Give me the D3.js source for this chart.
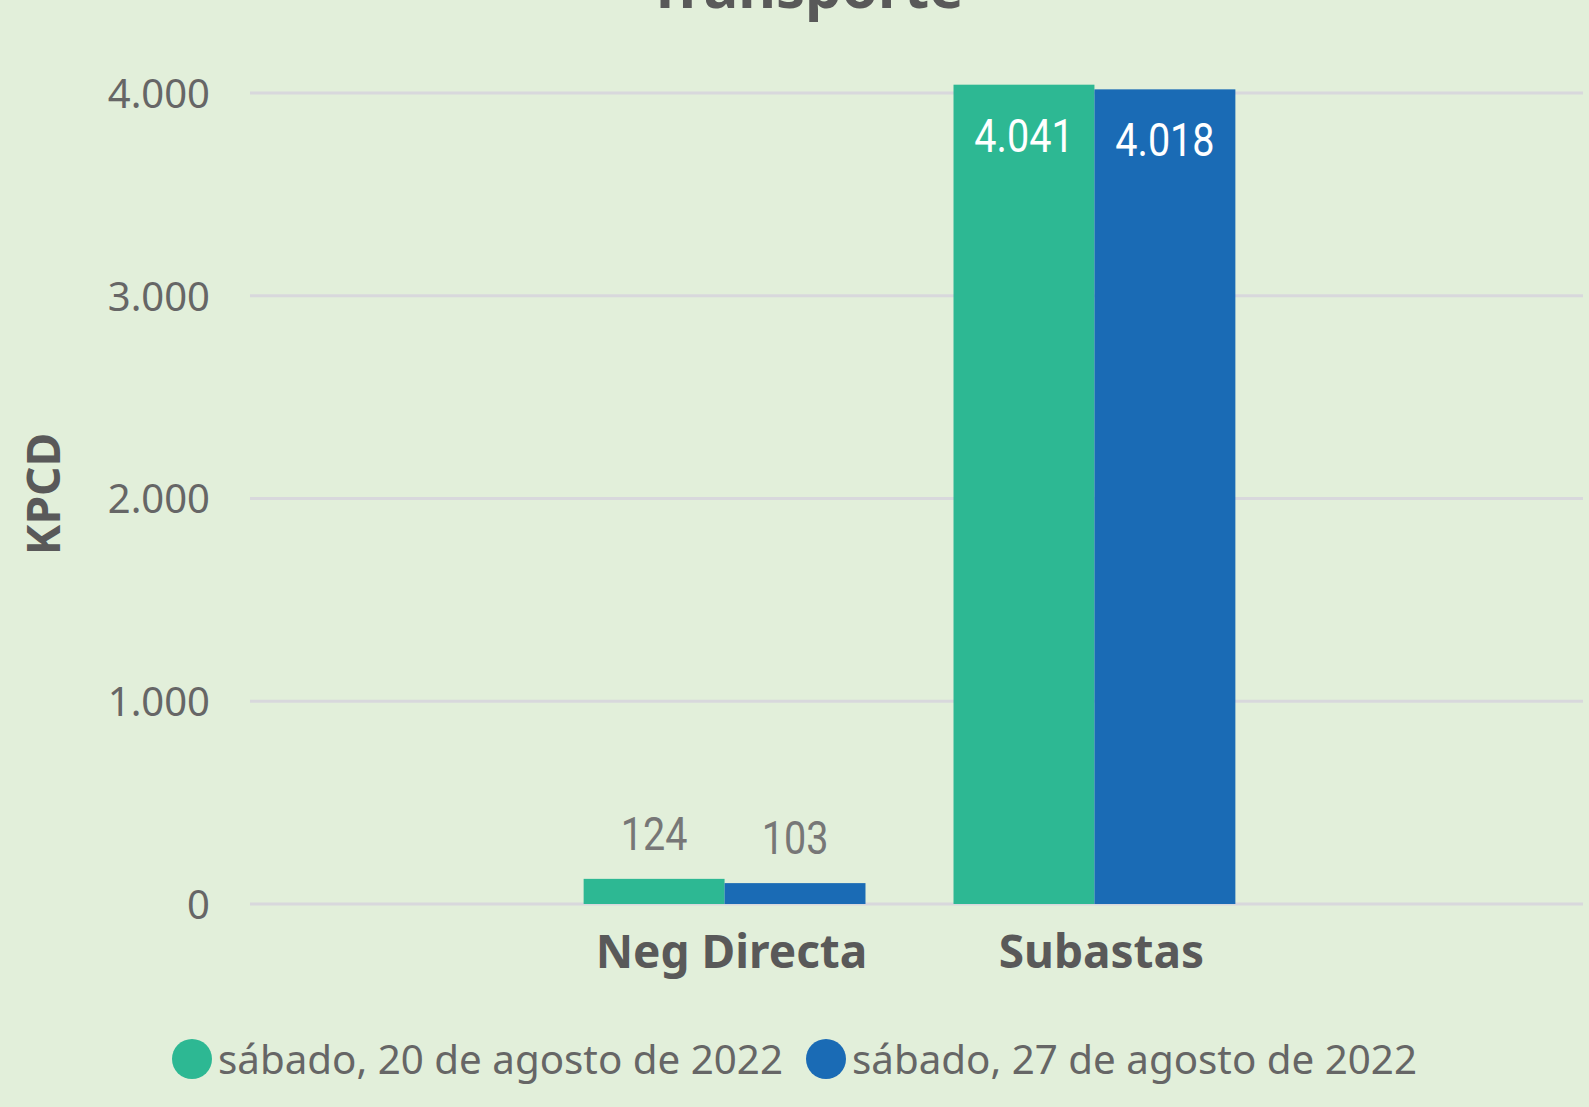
<!DOCTYPE html>
<html>
<head>
<meta charset="utf-8">
<script src="https://cdn.jsdelivr.net/npm/d3@7"></script>
<style>
  html, body { margin: 0; padding: 0; background: #E2EFDA; }
  svg { display: block; }
</style>
</head>
<body>
<svg></svg>
<script>
const width = 1589;
const height = 1107;

// Datos
const categories = ["Neg Directa", "Subastas"];
const seriesNames = ["sábado, 20 de agosto de 2022", "sábado, 27 de agosto de 2022"];
const serie20 = [124, 4041];
const serie27 = [103, 4018];
const yTicks = [0, 1000, 2000, 3000, 4000];

const colors = ["#2DB893", "#1A6BB5"];
const fmt = d3.format(",.0f");
const es = v => fmt(v).replace(/,/g, ".");

const svg = d3.select("svg")
  .attr("width", width)
  .attr("height", height);

svg.append("rect")
  .attr("width", width)
  .attr("height", height)
  .attr("fill", "#E2EFDA");

const plotLeft = 250, plotRight = 1583;

const y = d3.scaleLinear().domain([0, 4000]).range([904, 93]);

const x = d3.scaleBand()
  .domain(categories)
  .range([250, 1569])
  .paddingInner(0.238)
  .paddingOuter(0.902);

const xs = d3.scaleBand()
  .domain([0, 1])
  .range([0, x.bandwidth()]);

// Título (cortado arriba)
svg.append("text")
  .attr("x", 806)
  .attr("y", 8)
  .attr("text-anchor", "middle")
  .attr("font-family", "'Noto Sans', sans-serif")
  .attr("font-weight", "bold")
  .attr("font-size", 58)
  .attr("fill", "#595959")
  .text("Transporte");

// Grid
const yAxis = d3.axisLeft(y).tickValues(yTicks).tickSize(0).tickPadding(0).tickFormat(es);
const gy = svg.append("g").attr("transform", `translate(210,0)`).call(yAxis);
gy.select(".domain").remove();
gy.selectAll("text")
  .attr("font-family", "'Noto Sans', sans-serif")
  .attr("font-size", 40)
  .attr("fill", "#666")
  .attr("dy", "0.36em");

svg.append("g")
  .selectAll("line")
  .data(yTicks)
  .join("line")
  .attr("x1", plotLeft)
  .attr("x2", plotRight)
  .attr("y1", d => y(d))
  .attr("y2", d => y(d))
  .attr("stroke", "#D8D8DC")
  .attr("stroke-width", 3);

// Título eje Y
svg.append("text")
  .attr("transform", "translate(60,494) rotate(-90)")
  .attr("text-anchor", "middle")
  .attr("font-family", "'Noto Sans', sans-serif")
  .attr("font-weight", "bold")
  .attr("font-size", 46)
  .attr("fill", "#595959")
  .text("KPCD");

// Barras
const series = [serie20, serie27];
const bars = [];
categories.forEach((c, i) => {
  series.forEach((s, j) => bars.push({ cat: c, s: j, value: s[i] }));
});

svg.append("g")
  .selectAll("rect")
  .data(bars)
  .join("rect")
  .attr("x", d => x(d.cat) + xs(d.s))
  .attr("y", d => y(d.value))
  .attr("width", xs.bandwidth())
  .attr("height", d => y(0) - y(d.value))
  .attr("fill", d => colors[d.s]);

// Etiquetas de datos (fuente estrecha)
svg.append("g")
  .selectAll("text")
  .data(bars)
  .join("text")
  .attr("transform", d => {
    const cx = x(d.cat) + xs(d.s) + xs.bandwidth() / 2;
    const cy = d.value > 1000 ? y(d.value) + 67 : y(d.value) - 29;
    return `translate(${cx},${cy}) scale(0.86,1)`;
  })
  .attr("text-anchor", "middle")
  .attr("font-family", "'Roboto', sans-serif")
  .attr("font-size", 46)
  .attr("fill", d => d.value > 1000 ? "#fff" : "#777")
  .text(d => es(d.value));

// Etiquetas de categorías
svg.append("g")
  .selectAll("text")
  .data(categories)
  .join("text")
  .attr("x", d => x(d) + x.bandwidth() / 2 + 7)
  .attr("y", 968)
  .attr("text-anchor", "middle")
  .attr("font-family", "'Noto Sans', sans-serif")
  .attr("font-weight", "bold")
  .attr("font-size", 46)
  .attr("fill", "#595959")
  .text(d => d);

// Leyenda
const legendX = [192, 826];
const legend = svg.append("g")
  .selectAll("g")
  .data(seriesNames)
  .join("g")
  .attr("transform", (d, i) => `translate(${legendX[i]},1059)`);

legend.append("circle")
  .attr("r", 20)
  .attr("fill", (d, i) => colors[i]);

legend.append("text")
  .attr("x", 26)
  .attr("y", 15)
  .attr("font-family", "'Noto Sans', sans-serif")
  .attr("font-size", 40.3)
  .attr("fill", "#666")
  .text(d => d);
</script>
</body>
</html>
